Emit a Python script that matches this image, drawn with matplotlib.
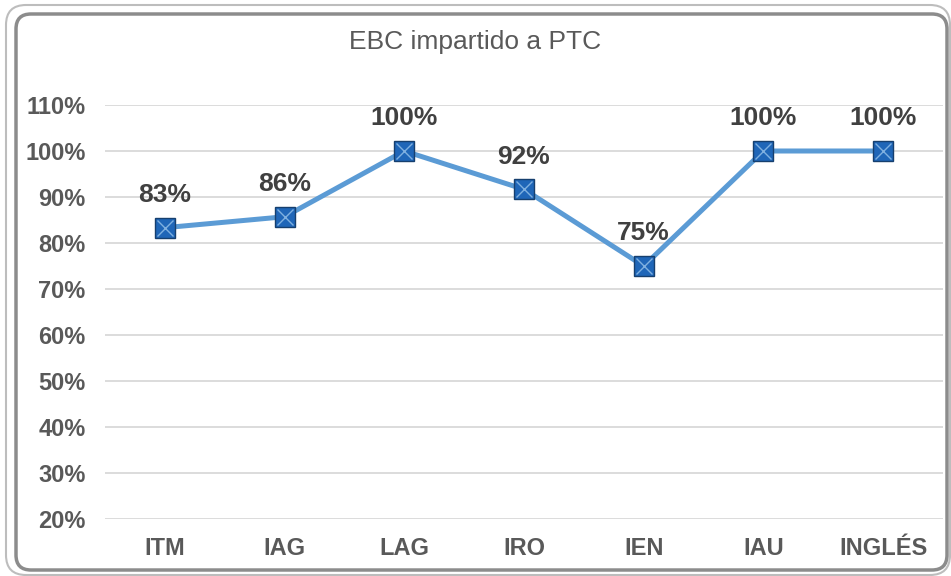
import matplotlib.pyplot as plt
from matplotlib.patches import FancyBboxPatch

categories = ['ITM', 'IAG', 'LAG', 'IRO', 'IEN', 'IAU', 'INGLÉS']
values = [83.33, 85.71, 100, 91.67, 75, 100, 100]
labels = ['83%', '86%', '100%', '92%', '75%', '100%', '100%']
yticks = [20, 30, 40, 50, 60, 70, 80, 90, 100, 110]

plt.rcParams['font.family'] = ['Liberation Sans', 'DejaVu Sans']

fig = plt.figure(figsize=(9.51, 5.76), dpi=100)
ax = fig.add_axes([105 / 951, 1 - 519 / 576, 838 / 951, 414 / 576])

x = range(len(categories))
ax.plot(x, values, color='#5B9BD5', linewidth=3.6, zorder=3)
ax.plot(x, values, linestyle='none', marker='s', markersize=14,
        markerfacecolor='#1F66B8', markeredgecolor='#163F6E', markeredgewidth=1, zorder=4)
ax.plot(x, values, linestyle='none', marker='x', markersize=12,
        markeredgecolor='#7FB0E0', markeredgewidth=1, zorder=5)

for i, (v, t) in enumerate(zip(values, labels)):
    ax.text(i, v + 5.6, t, ha='center', va='baseline', fontsize=19, fontweight='bold', color='#404040')

ax.set_xlim(-0.5, len(categories) - 0.5)
ax.set_ylim(20, 110)
ax.set_yticks(yticks)
ax.set_yticklabels([f'{t}%' for t in yticks])
ax.set_xticks(list(x))
ax.set_xticklabels(categories)
ax.tick_params(length=0, labelsize=17, labelcolor='#595959')
ax.tick_params(axis='x', pad=13)
ax.tick_params(axis='y', pad=14)
for lab in ax.get_xticklabels() + ax.get_yticklabels():
    lab.set_fontweight('bold')
ax.grid(axis='y', color='#D9D9D9', linewidth=1.3)
ax.set_axisbelow(True)
for s in ax.spines.values():
    s.set_visible(False)

fig.text(0.5, 1 - 42 / 576, 'EBC impartido a PTC', ha='center', va='center', fontsize=19, color='#595959')

# double frame, sizes in inches (100 px per inch)
outer = FancyBboxPatch((0.06, 0.01), 9.44, 5.70,
                       boxstyle='round,pad=0,rounding_size=0.2',
                       transform=fig.dpi_scale_trans, fill=False,
                       edgecolor='#BDBDBD', linewidth=1.5)
inner = FancyBboxPatch((0.16, 0.06), 9.31, 5.56,
                       boxstyle='round,pad=0,rounding_size=0.15',
                       transform=fig.dpi_scale_trans, fill=False,
                       edgecolor='#8C8C8C', linewidth=2.5)
fig.patches.append(outer)
fig.patches.append(inner)

fig.savefig('out.png', dpi=100)
